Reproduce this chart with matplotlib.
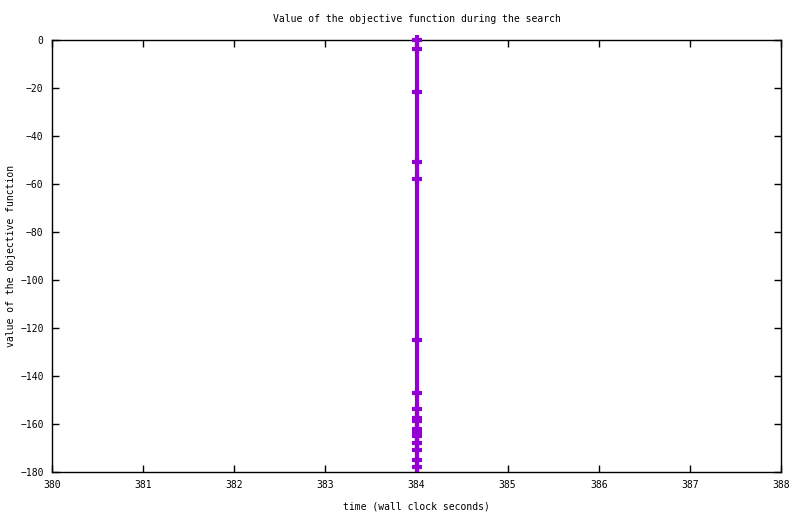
import matplotlib
matplotlib.use("Agg")
import matplotlib.pyplot as plt

values = [0.0, -3.6, -21.5, -50.7, -57.8, -125.0, -147.0, -153.6,
          -157.3, -158.8, -161.9, -163.8, -165.2, -167.8, -170.7, -174.9, -177.8]
times = [384.0] * len(values)

x_ticks = [380, 381, 382, 383, 384, 385, 386, 387, 388]
y_ticks = [0, -20, -40, -60, -80, -100, -120, -140, -160, -180]

plt.rcParams['font.family'] = ['DejaVu Sans Mono']
fig = plt.figure(figsize=(8, 5.14), dpi=100)
ax = fig.add_axes([52/800, 1 - 472/514, (781-52)/800, (472-40)/514])

# line extends beyond the bottom (clipped)
ax.plot(times + [384.0], values + [-190.0], color='#9400D3', linewidth=3.0,
        solid_capstyle='butt', zorder=2)
ax.plot(times, values, linestyle='none', marker='+', markersize=7.5,
        markeredgewidth=3.0, color='#9400D3', zorder=3, clip_on=False)

ax.set_xlim(380, 388)
ax.set_ylim(-180, 0)
ax.set_xticks(x_ticks)
ax.set_yticks(y_ticks)
ax.tick_params(direction='in', length=5, width=1, labelsize=7,
               top=True, right=True, pad=6)
for s in ax.spines.values():
    s.set_linewidth(1)
ax.set_title('Value of the objective function during the search', fontsize=7, pad=13)
ax.set_xlabel('time (wall clock seconds)', fontsize=7, labelpad=8)
ax.set_ylabel('value of the objective function', fontsize=7, labelpad=3)

fig.savefig('out.png', dpi=100)
